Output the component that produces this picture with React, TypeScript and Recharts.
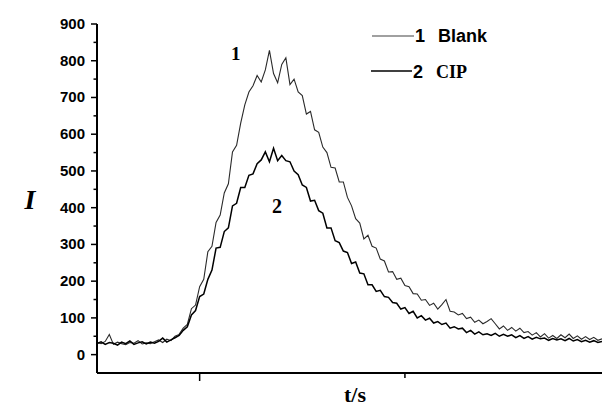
import React from 'react';
import { LineChart, Line, XAxis, YAxis } from 'recharts';

// sampling grid (t units), one reading every 2 units
const timeStart = 50;
const timeStep = 2;

// curve 1: Blank
const blank = [
  33, 30, 36, 55, 28, 34, 30, 27, 33, 31, 38, 29, 32, 30, 35, 40, 33, 42, 38, 50,
  55, 72, 82, 125, 135, 185, 205, 280, 295, 360, 380, 440, 465, 552, 570, 630, 680, 715, 732, 760,
  742, 775, 828, 765, 740, 790, 808, 735, 750, 715, 705, 655, 662, 612, 605, 565, 550, 510, 508, 470,
  470, 428, 405, 370, 358, 315, 325, 295, 290, 260, 255, 225, 226, 205, 208, 188, 185, 166, 165, 148,
  150, 134, 140, 124, 136, 150, 118, 116, 108, 112, 98, 102, 88, 94, 84, 90, 98, 84, 70, 78,
  66, 74, 64, 72, 60, 63, 53, 60, 48, 57, 45, 52, 44, 54, 46, 56, 44, 51, 42, 49,
  41, 47, 39, 43,
];

// curve 2: CIP
const cip = [
  30, 35, 28, 33, 31, 26, 34, 30, 37, 28, 32, 35, 29, 34, 31, 36, 45, 34, 40, 46,
  52, 66, 76, 108, 120, 158, 165, 205, 230, 290, 292, 335, 345, 405, 412, 455, 455, 488, 492, 520,
  530, 552, 525, 562, 528, 542, 528, 525, 500, 490, 462, 455, 418, 420, 392, 385, 345, 345, 310, 305,
  282, 278, 248, 252, 222, 220, 190, 190, 172, 175, 158, 156, 142, 140, 124, 128, 112, 118, 100, 106,
  94, 99, 86, 90, 82, 86, 72, 76, 70, 72, 60, 66, 56, 62, 54, 57, 52, 58, 50, 55,
  50, 54, 46, 52, 44, 49, 42, 47, 43, 45, 39, 44, 40, 43, 38, 44, 37, 41, 35, 39,
  34, 38, 33, 36,
];

const yTicks = [0, 50, 100, 150, 200, 250, 300, 350, 400, 450, 500, 550, 600, 650, 700, 750, 800, 850, 900];
const xTicks = [100, 200];

const data = blank.map((b, i) => ({ t: timeStart + i * timeStep, blank: b, cip: cip[i] }));

const YTick = (props: any) => {
  const { x, y, payload } = props;
  const major = payload.value % 100 === 0;
  return (
    <g>
      <line x1={x - (major ? 6 : 3.5)} x2={x} y1={y} y2={y} stroke="#000" strokeWidth={1.5} />
      {major && (
        <text x={x - 12} y={y} dy={5} textAnchor="end" fontFamily="'Liberation Sans', Arial, sans-serif"
          fontWeight="bold" fontSize={15} fill="#000">
          {payload.value}
        </text>
      )}
    </g>
  );
};

const XTick = (props: any) => {
  const { x, y, payload } = props;
  const len = payload.value === 100 ? 8 : 5;
  return <line x1={x} x2={x} y1={y} y2={y + len} stroke="#000" strokeWidth={1.5} />;
};

export default function App() {
  return (
    <div style={{ position: 'absolute', left: 0, top: 0, width: 602, height: 408, background: '#fff' }}>
      <LineChart width={602} height={408} data={data} margin={{ top: 24, right: 0, bottom: 0, left: 0 }}>
        <XAxis dataKey="t" type="number" domain={[50, 296]} ticks={xTicks} height={35}
          axisLine={{ stroke: '#000', strokeWidth: 2 }} tickLine={false} tickSize={0} tickMargin={0}
          tick={<XTick />} allowDataOverflow />
        <YAxis type="number" domain={[-50, 900]} ticks={yTicks} width={97} interval={0}
          axisLine={{ stroke: '#000', strokeWidth: 2 }} tickLine={false} tickSize={0} tickMargin={0}
          tick={<YTick />} allowDataOverflow />
        <Line type="linear" dataKey="blank" stroke="#2a2a2a" strokeWidth={1.1} dot={false} isAnimationActive={false} />
        <Line type="linear" dataKey="cip" stroke="#000" strokeWidth={1.5} dot={false} isAnimationActive={false} />
      </LineChart>
      <svg width={602} height={408} style={{ position: 'absolute', left: 0, top: 0, pointerEvents: 'none' }}>
        <line x1={372} x2={414} y1={36} y2={36} stroke="#808080" strokeWidth={1.5} />
        <text x={415} y={42} fontFamily="'Liberation Sans', Arial, sans-serif" fontWeight="bold" fontSize={18}>1</text>
        <text x={438} y={42} fontFamily="'Liberation Sans', Arial, sans-serif" fontWeight="bold" fontSize={18}>Blank</text>
        <line x1={371} x2={412} y1={71} y2={71} stroke="#000" strokeWidth={1.5} />
        <text x={413} y={78} fontFamily="'Liberation Sans', Arial, sans-serif" fontWeight="bold" fontSize={18}>2</text>
        <text x={436} y={78} fontFamily="'Liberation Serif', 'Times New Roman', serif" fontWeight="bold" fontSize={18}>CIP</text>
        <text x={231} y={60} fontFamily="'Liberation Serif', 'Times New Roman', serif" fontWeight="bold" fontSize={19}>1</text>
        <text x={272} y={213} fontFamily="'Liberation Serif', 'Times New Roman', serif" fontWeight="bold" fontSize={20}>2</text>
        <text x={355} y={402} textAnchor="middle" fontFamily="'Liberation Serif', 'Times New Roman', serif" fontWeight="bold" fontSize={22}>t/s</text>
        <text x={30} y={209} textAnchor="middle" fontFamily="'Liberation Serif', 'Times New Roman', serif" fontWeight="bold" fontStyle="italic" fontSize={28}>I</text>
      </svg>
    </div>
  );
}
